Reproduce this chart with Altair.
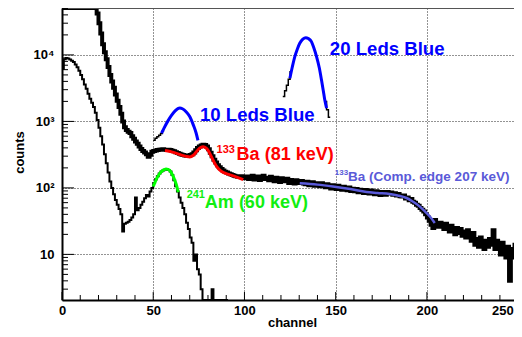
import altair as alt
import pandas as pd

# ---------------- data ----------------
# thick black histogram (counts per channel, channel 0 ... 255)
thick_counts = (
    [60000] * 19 +
    [42000, 30000, 21000, 14500, 11000, 8600, 6600, 5000, 4000, 3200,
     2550, 2050, 1650, 1300, 1000, 820, 740, 700, 670, 600,
     550, 500, 460, 420, 385, 360, 340, 320, 295, 315, 350] +
    [360, 365, 370, 375, 378, 380, 375, 372, 376, 370,
     362, 355, 345, 335, 326, 318, 312, 307, 304, 306,
     312, 322, 340, 368, 398, 420, 436, 446, 440, 418,
     380, 338, 298, 265, 240, 220, 204, 192, 182, 175,
     170, 164, 160, 156, 152, 150, 147, 146, 150, 144] +
    [140, 148, 136, 144, 152, 134, 140, 148, 132, 142,
     152, 136, 142, 130, 147, 138, 126, 142, 135, 123,
     140, 130, 126, 137, 118, 132, 126, 116, 130, 122,
     118, 127, 116, 113, 124, 110, 120, 122, 108, 117,
     112, 106, 117, 110, 102, 113, 106, 98, 110, 104,
     96, 108, 100, 94, 104, 98, 92, 101, 90, 97,
     89, 96, 86, 94, 90, 84, 93, 88, 82, 91,
     86, 80, 89, 84, 78, 87, 84, 79, 87, 82,
     85, 79, 83, 77, 81, 75, 74, 77, 69, 72,
     65, 68, 62, 60, 56, 54, 50, 47, 44, 40] +
    [36, 32, 28, 25, 33, 30, 26, 30, 27, 24,
     29, 25, 22, 27, 24, 20, 25, 21, 24, 19,
     22, 18, 23, 19, 16, 21, 14, 17, 13, 18,
     15, 12, 16, 13, 17, 14, 23, 12, 16, 13,
     10, 15, 11, 9, 13, 4, 12, 9, 14, 11,
     8, 17, 7, 10, 12, 9]
)
# thin black histogram (241Am), channel 0 ... 90 (0 = empty bin)
thin_counts = [
    6200, 8600, 9000, 8800, 8500, 8200, 7800, 7200, 6500, 5800,
    5000, 4300, 3600, 3100, 2600, 2200, 1900, 1650, 1350, 1050,
    800, 600, 450, 320, 235, 170, 125, 100, 80, 66,
    56, 48, 40, 22, 29, 30, 31, 33, 36, 40,
    72, 46, 50, 56, 62, 70, 78, 74, 88, 100,
    118, 135, 150, 165, 176, 183, 188, 190, 186, 176,
    156, 130, 106, 88, 72, 60, 50, 40, 30, 24,
    18, 15, 8, 10, 6, 5, 3, 0, 0, 0,
    0, 0, 3, 0, 0, 0, 0, 0, 0, 0, 0]

# LED histograms (only the parts not hidden by the fits)
led10_ch = [50, 51, 52, 53, 54, 55, 56]
led10_counts = [520, 560, 590, 620, 660, 720, 720]
led20a_ch = [121, 122, 123, 124, 125, 126]
led20a_counts = [2366, 2900, 3500, 4300, 5600, 5600]
led20b_ch = [144, 145, 146, 147]
led20b_counts = [2000, 1500, 1150, 1150]

# fitted curves
green_ch = [50, 51, 52, 53, 54, 55, 56, 57, 58, 59, 60, 61, 62, 63, 63.7]
green_val = [105, 122, 140, 156, 170, 181, 188, 192, 190, 183, 168, 148, 126, 104, 86]

red_ch = [56.4, 58, 60, 62, 64, 66, 68, 70, 72, 74, 76, 77.4, 79, 80.5, 82,
          83.5, 85, 87, 89, 92, 95, 99.3]
red_val = [366, 358, 348, 336, 322, 308, 298, 292, 310, 360, 405, 415, 395, 350, 290,
           240, 205, 180, 168, 157, 148, 133]

blue10_ch = [54.6, 56, 58, 60, 62, 63.5, 64.6, 66, 68, 70, 72, 73.5, 74.5]
blue10_val = [667, 800, 1010, 1230, 1440, 1560, 1590, 1550, 1400, 1185, 880, 670, 520]

blue20_ch = [124.9, 126, 127.6, 129, 130.3, 132, 133.6, 135, 136.7, 138, 139.5,
             141, 142.2, 143.2, 144, 145]
blue20_val = [4467, 6200, 9430, 12300, 14970, 17300, 18200, 17600, 15850, 12800, 9430,
              6400, 4217, 2900, 2110, 1585]

comp_ch = [130.3, 140, 148.5, 158, 166.9, 173, 179.6, 184, 188.8, 192, 196, 199,
           201.5, 204.3]
comp_val = [117, 112, 105, 96, 87, 84, 81, 77, 70.5, 63, 52.8, 44, 37.4, 29.7]

# annotations
ann_text = ["20 Leds Blue", "10 Leds Blue", "133", "Ba (81 keV)", "241",
            "Am (60 keV)", "133", "Ba (Comp. edge 207 keV)"]
ann_ch = [146.8, 75.6, 84.7, 95.7, 68.3, 78.3, 149.5, 156.8]
ann_val = [10000, 1031, 334, 265, 70.5, 49.9, 158, 125]
ann_size = [18.6, 18.6, 11, 18, 11, 18, 8, 13.5]
ann_color = ["#0000ff", "#0000ff", "#ff0000", "#ff0000", "#11ee11", "#11ee11",
             "#5a5ad8", "#5a5ad8"]

x_labels = [0, 50, 100, 150, 200, 250]
y_labels = [10, 100, 1000, 10000]

# ---------------- chart ----------------
W, H = 460, 292
XDOM = [0, 252.1]
YDOM = [2.06, 50780]
FONT = "Liberation Sans"

xs = alt.Scale(domain=XDOM, nice=False, zero=False)
ys = alt.Scale(type="log", domain=YDOM, nice=False, clamp=True)

label_expr = ("datum.value == 10 ? '10' : datum.value == 100 ? '10\u00b2' : "
              "datum.value == 1000 ? '10\u00b3' : '10\u2074'")

x_axis = alt.Axis(
    values=x_labels, grid=True, gridDash=[1, 2], gridColor="#000", gridOpacity=0.85,
    ticks=False, domainColor="#000", domainWidth=2, labelFont=FONT,
    labelFontWeight="bold", labelFontSize=13, labelColor="#000", labelPadding=4,
    labelAlign={"condition": {"test": "datum.value == 250", "value": "right"},
                "value": "center"},
    labelOffset={"condition": {"test": "datum.value == 250", "value": -5},
                 "value": 0},
    title="channel", titleFont=FONT, titleFontSize=13, titleFontWeight="bold",
    titleColor="#000", titleX=230, titleY=22, titleAlign="center",
    titleBaseline="middle", labelFlush=False, labelOverlap=False)
y_axis = alt.Axis(
    values=y_labels, labelExpr=label_expr, grid=True, gridDash=[1, 2],
    gridColor="#000", gridOpacity=0.85, ticks=False, domainColor="#000",
    domainWidth=2, labelFont=FONT, labelFontWeight="bold", labelFontSize=13,
    labelColor="#000", labelPadding=8, title="counts", titleFont=FONT,
    titleFontSize=13, titleFontWeight="bold", titleColor="#000", titleX=-43,
    titleY=144, titleAngle=-90, titleAlign="center", titleBaseline="middle",
    labelOverlap=False)

X = alt.X("ch:Q", scale=xs, axis=x_axis)
Y = alt.Y("n:Q", scale=ys, axis=y_axis)


def hist_df(chs, vals, last_edge=None):
    chs = list(chs)
    vals = [v if v > 0 else 1 for v in vals]
    if last_edge is not None:
        chs = chs + [last_edge]
        vals = vals + [vals[-1]]
    return pd.DataFrame({"ch": chs, "n": vals})


def step_layer(df, width, color="black"):
    return alt.Chart(df).mark_line(
        interpolate="step-after", color=color, strokeWidth=width, clip=True
    ).encode(x=X, y=Y)


def curve_layer(chs, vals, color, width):
    df = pd.DataFrame({"ch": chs, "n": vals})
    return alt.Chart(df).mark_line(
        interpolate="monotone", color=color, strokeWidth=width, clip=True
    ).encode(x=X, y=Y)


# inside ticks
x_major = x_labels
x_minor = [v for v in range(10, 252, 10) if v % 50 != 0]
y_major = y_labels
y_minor = [m * d for d in [1, 10, 100, 1000, 10000] for m in range(2, 10)
           if YDOM[0] < m * d < YDOM[1]]

xt_major = alt.Chart(pd.DataFrame({"ch": x_major})).mark_rule(color="black").encode(
    x=X, y=alt.value(H), y2=alt.value(H - 8))
xt_minor = alt.Chart(pd.DataFrame({"ch": x_minor})).mark_rule(color="black").encode(
    x=X, y=alt.value(H), y2=alt.value(H - 5))
yt_major = alt.Chart(pd.DataFrame({"n": y_major})).mark_rule(color="black").encode(
    y=Y, x=alt.value(0), x2=alt.value(12))
yt_minor = alt.Chart(pd.DataFrame({"n": y_minor})).mark_rule(color="black").encode(
    y=Y, x=alt.value(0), x2=alt.value(6))
top_frame = alt.Chart(pd.DataFrame({"a": [0]})).mark_rule(color="#555", strokeWidth=1).encode(
    x=alt.value(0), x2=alt.value(W), y=alt.value(0.5))

thick = step_layer(hist_df(range(len(thick_counts)), thick_counts, len(thick_counts)), 4)
thin = step_layer(hist_df(range(len(thin_counts)), thin_counts, len(thin_counts)), 2)
led10 = step_layer(hist_df(led10_ch, led10_counts), 1.5)
led20a = step_layer(hist_df(led20a_ch, led20a_counts), 1.5)
led20b = step_layer(hist_df(led20b_ch, led20b_counts), 1.5)

green = curve_layer(green_ch, green_val, "#00ff00", 3)
red = curve_layer(red_ch, red_val, "#ff0000", 3)
blue10 = curve_layer(blue10_ch, blue10_val, "#0000ff", 3)
blue20 = curve_layer(blue20_ch, blue20_val, "#0000ff", 3)
comp = curve_layer(comp_ch, comp_val, "#5a5ad8", 2.5)

texts = []
for t, c, v, s, col in zip(ann_text, ann_ch, ann_val, ann_size, ann_color):
    texts.append(
        alt.Chart(pd.DataFrame({"ch": [c], "n": [v], "t": [t]})).mark_text(
            align="left", baseline="alphabetic", font=FONT, fontWeight="bold",
            fontSize=s, color=col
        ).encode(x=X, y=Y, text="t:N")
    )

chart = alt.layer(
    thick, top_frame, xt_major, xt_minor, yt_major, yt_minor,
    thin, led10, led20a, led20b, green, red, blue10, blue20, comp, *texts
).properties(
    width=W, height=H,
    autosize=alt.AutoSizeParams(type="none"),
    padding={"left": 54, "top": 0, "right": -8, "bottom": 29},
    background="white",
).configure_view(stroke=None)

chart.save("out.html", embed_options={"renderer": "svg", "actions": False})
